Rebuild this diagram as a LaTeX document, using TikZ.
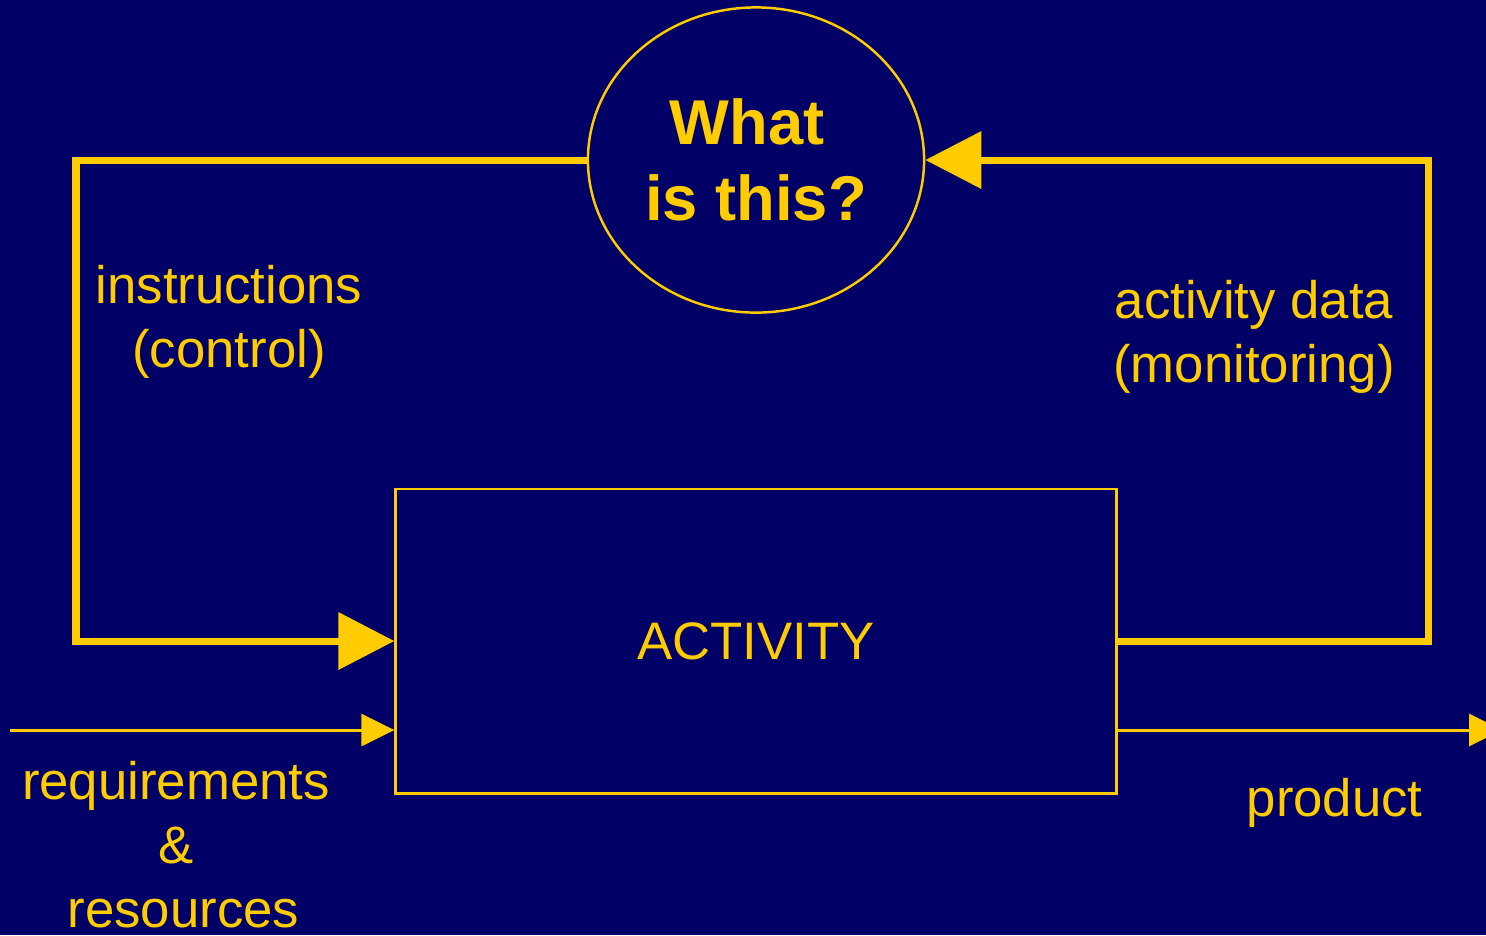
\documentclass[tikz,border=0pt]{standalone}
\usepackage{fontspec}
\setmainfont{Liberation Sans}
\usetikzlibrary{arrows.meta,positioning,shapes.geometric}
\definecolor{navy}{RGB}{0,0,102}
\definecolor{gold}{RGB}{255,204,0}
\newcommand{\plainfont}{\fontsize{15}{18.2}\selectfont}
\newcommand{\askfont}{\fontsize{18}{21.6}\selectfont\bfseries}
\tikzstyle{block} = [rectangle, draw=gold, line width=0.8pt, minimum width=7.2cm, minimum height=3.04cm, text=gold, font=\plainfont]
\tikzstyle{blob} = [ellipse, draw=gold, line width=0.7pt, minimum width=3.36cm, minimum height=3.05cm, inner sep=0pt, text=gold, align=center, font=\askfont]
\tikzstyle{tag} = [text=gold, align=center, inner sep=0pt, font=\plainfont]
\tikzstyle{loopline} = [draw=gold, line width=2pt, -{Triangle[length=0.56cm, width=0.56cm]}]
\tikzstyle{flowline} = [draw=gold, line width=0.85pt, -{Triangle[length=0.33cm, width=0.32cm]}]

\begin{document}
\begin{tikzpicture}[x=0.01cm, y=-0.01cm]
      \useasboundingbox[fill=navy] (0,0) rectangle (1486,935);
      \node[blob] (Q) at (756,160) { What\hphantom{\ }\\ is this? };
      \node[block] (A) at (756,641) { ACTIVITY };
      \coordinate (CL) at (76,160);
      \coordinate (CR) at (1428,160);
      \coordinate (RQ) at (10,730);
      \coordinate (PR) at (1502,730);
      \node[tag] (I) at (229,322) { instructions\\ (control) };
      \node[tag] (M) at (1254,337) { activity data\\ (monitoring) };
      \node[tag] (R) at (176,845) { requirements\\ \&\\ \hphantom{\ }resources };
      \node[tag, anchor=base] (P) at (1342,816) { product };
      \draw[loopline] (Q.west) -- (CL) |- (A.west);
      \draw[loopline] (A.east) -| (CR) -- (Q.east);
      \draw[flowline] (RQ) -- (RQ -| A.west);
      \draw[flowline] (PR -| A.east) -- (PR);
    \end{tikzpicture}
\end{document}
